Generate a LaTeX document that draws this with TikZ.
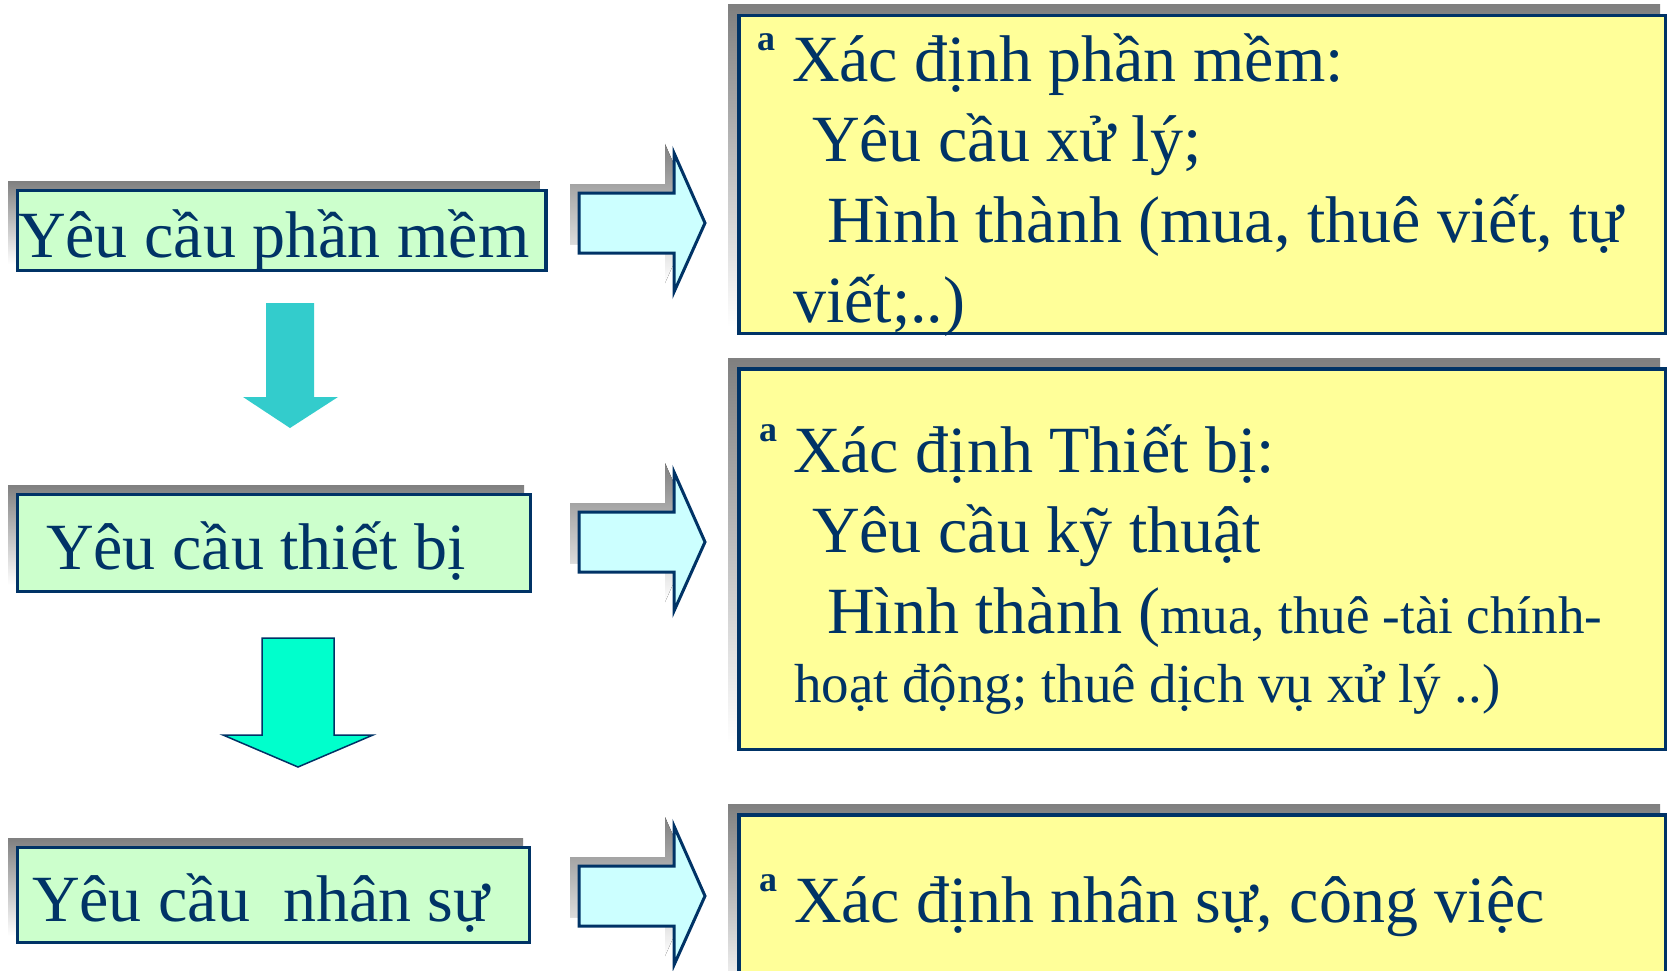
\documentclass[tikz,border=0pt]{standalone}
\usepackage{fontspec}
\setmainfont{Liberation Serif}
\definecolor{navy}{HTML}{003366}
\definecolor{shade}{HTML}{666699}
\definecolor{mint}{HTML}{CCFFCC}
\definecolor{lemon}{HTML}{FFFF99}
\definecolor{pale}{HTML}{CCFFFF}
\definecolor{teal1}{HTML}{33CCCC}
\definecolor{aqua2}{HTML}{00FFCC}
\newcommand\rblockarrow[1]{%
  \begin{scope}[shift={(0,#1)}]
    \fill[shade] (570,184) -- (665,184) -- (665,144) -- (696,214) -- (665,283) -- (665,244) -- (570,244) -- cycle;
    \draw[arrowbody] (579,193) -- (674,193) -- (674,153) -- (705,223) -- (674,292) -- (674,253) -- (579,253) -- cycle;
  \end{scope}}
\begin{document}
\begin{tikzpicture}[x=1pt,y=-1pt,
  leftbox/.style={rectangle, draw=navy, line width=3.3pt, fill=mint, inner sep=0pt, outer sep=0pt},
  rightbox/.style={rectangle, draw=navy, line width=3.5pt, fill=lemon, inner sep=0pt, outer sep=0pt},
  arrowbody/.style={draw=navy, line width=3pt, fill=pale, line join=miter},
  txt/.style={anchor=base west, inner sep=0pt, outer sep=0pt, text=navy, font=\fontsize{66}{79}\selectfont},
  smalltxt/.style={txt, font=\fontsize{55}{66}\selectfont},
  bul/.style={anchor=base west, inner sep=0pt, outer sep=0pt, text=navy, font=\fontsize{36}{40}\selectfont\bfseries}]
\clip (0,0) rectangle (1671,971);
\fill[white] (0,0) rectangle (1671,971);

% ---- left column ----
\fill[shade] (8,181) rectangle (539.5,264);
\node[leftbox, minimum width=528.2pt, minimum height=79.7pt] (b1) at (281.75,230.5) {};
\node[txt] (t1) at (18,257) {Yêu cầu phần mềm};

\fill[teal1] (266,303) -- (314,303) -- (314,397) -- (338,397) -- (290,428) -- (243,397) -- (266,397) -- cycle;

\fill[shade] (8,485) rectangle (524,585);
\node[leftbox, minimum width=512.7pt, minimum height=96.7pt] (b2) at (274,543) {};
\node[txt] (t2) at (46,569) {Yêu cầu thiết bị};

\draw[navy, line width=1.5pt, fill=aqua2] (262,638) -- (334,638) -- (334,735) -- (373,735) -- (298,767) -- (223,735) -- (262,735) -- cycle;

\fill[shade] (8,838) rectangle (523,936);
\node[leftbox, minimum width=511.7pt, minimum height=94.7pt] (b3) at (273.5,895) {};
\node[txt] (t3) at (32,921) {Yêu cầu~~nhân sự};

% ---- block arrows ----
\rblockarrow{0}
\rblockarrow{319}
\rblockarrow{673}

% ---- right column ----
\fill[shade] (728,5) rectangle (1660,327);
\node[rightbox, minimum width=926.5pt, minimum height=317.5pt] (r1) at (1202,174.5) {};
\node[bul] (a1) at (757,51) {a};
\node[txt] (r1l1) at (792,82) {Xác định phần mềm:};
\node[txt] (r1l2) at (812,162) {Yêu cầu xử lý;};
\node[txt] (r1l3) at (827,242) {Hình thành (mua, thuê viết, tự};
\node[txt] (r1l4) at (793,322) {viết;..)};

\fill[shade] (728,358) rectangle (1660,743);
\node[rightbox, minimum width=926.5pt, minimum height=380.5pt] (r2) at (1202,559) {};
\node[bul] (a2) at (759,441) {a};
\node[txt] (r2l1) at (793,472) {Xác định Thiết bị:};
\node[txt] (r2l2) at (812,552) {Yêu cầu kỹ thuật};
\node[txt] (r2l3) at (827,633) {Hình thành ({\fontsize{53}{64}\selectfont mua, thuê -tài chính-}};
\node[smalltxt] (r2l4) at (794,702) {hoạt động; thuê dịch vụ xử lý ..)};

\fill[shade] (728,804) rectangle (1660,1000);
\node[rightbox, minimum width=926.5pt, minimum height=183.5pt] (r3) at (1202,906.5) {};
\node[bul] (a3) at (759,891) {a};
\node[txt] (r3l1) at (794,922) {Xác định nhân sự, công việc};
\end{tikzpicture}
\end{document}
